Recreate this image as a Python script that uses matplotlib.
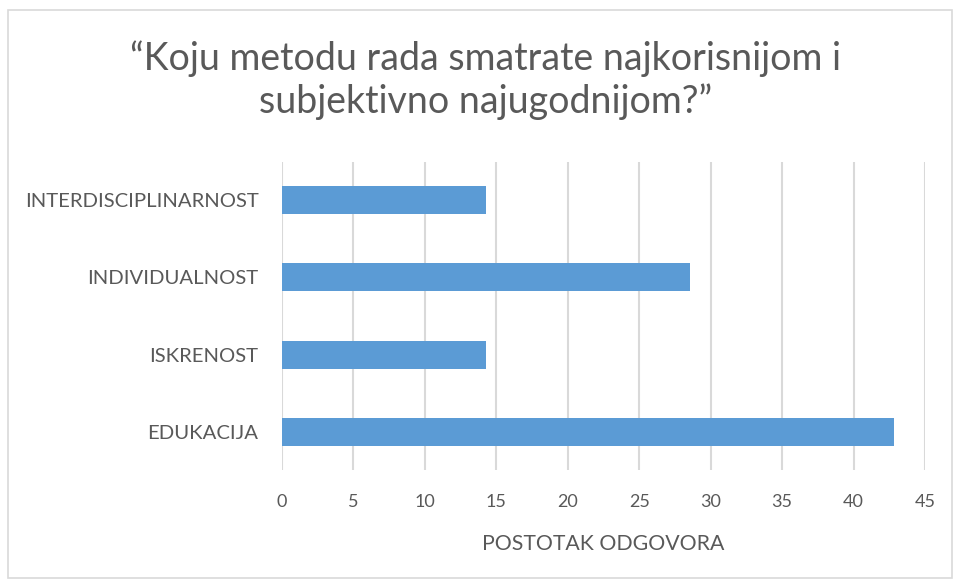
import matplotlib.pyplot as plt
from matplotlib.patches import Rectangle

categories = ["EDUKACIJA", "ISKRENOST", "INDIVIDUALNOST", "INTERDISCIPLINARNOST"]
values = [42.86, 14.29, 28.57, 14.29]
xticks = [0, 5, 10, 15, 20, 25, 30, 35, 40, 45]
title = "\u201cKoju metodu rada smatrate najkorisnijom i\nsubjektivno najugodnijom?\u201d"
xlabel = "POSTOTAK ODGOVORA"

plt.rcParams['font.family'] = ['Lato', 'DejaVu Sans']
grey = "#595959"

fig = plt.figure(figsize=(9.55, 5.82), dpi=100)
ax = fig.add_axes([0.2953, 0.1916, 0.6733, 0.5309])

ax.barh(range(len(categories)), values, height=0.36, color="#5B9BD5", zorder=3)
ax.set_yticks(range(len(categories)))
ax.set_yticklabels(categories, color=grey, fontsize=14.6)
ax.set_ylim(-0.5, 3.5)
ax.set_xlim(0, 45)
ax.set_xticks(xticks)
ax.set_xticklabels([str(t) for t in xticks], color=grey, fontsize=13)
ax.tick_params(axis='y', length=0, pad=17)
ax.tick_params(axis='x', length=0, pad=17)
ax.grid(axis='x', color="#d9d9d9", linewidth=1.5, zorder=0)
for s in ax.spines.values():
    s.set_visible(False)
ax.set_xlabel(xlabel, color=grey, fontsize=15.3, labelpad=17)

fig.text(0.508, 0.8625, title, ha='center', va='center', fontsize=27,
         color=grey, linespacing=1.2)

fig.patches.append(Rectangle((8 / 955, 4 / 582), 944 / 955, 568 / 582,
                             transform=fig.transFigure, fill=False,
                             edgecolor="#d9d9d9", linewidth=1.2))

fig.savefig("out.png", dpi=100)
